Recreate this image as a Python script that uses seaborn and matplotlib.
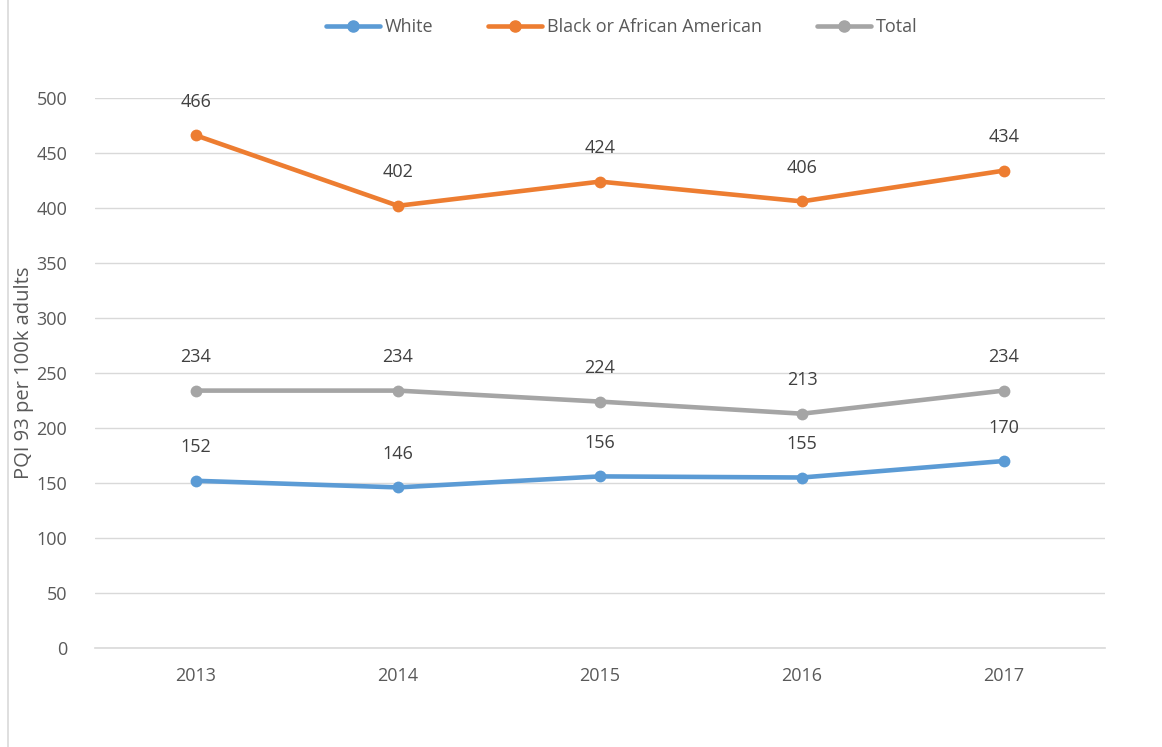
import numpy as np
import pandas as pd
import matplotlib
matplotlib.use('Agg')
import matplotlib.pyplot as plt
import seaborn as sns
from matplotlib.lines import Line2D

years = ['2013', '2014', '2015', '2016', '2017']
white = [152, 146, 156, 155, 170]
black = [466, 402, 424, 406, 434]
total = [234, 234, 224, 213, 234]
groups = ['White', 'Black or African American', 'Total']
colors = ['#5B9BD5', '#ED7D31', '#A5A5A5']

data = pd.DataFrame({
    'Year': years * 3,
    'Value': white + black + total,
    'Group': [groups[0]] * 5 + [groups[1]] * 5 + [groups[2]] * 5,
})

sns.set_style('white')
plt.rcParams['font.family'] = ['Open Sans', 'DejaVu Sans']
txt = '#595959'

fig = plt.figure(figsize=(11.62, 7.47), dpi=100)
ax = fig.add_axes([95 / 1162, 1 - 648 / 747, 1010 / 1162, 550 / 747])

sns.lineplot(data=data, x='Year', y='Value', hue='Group', hue_order=groups,
             palette=colors, marker='o', markersize=8.5, markeredgewidth=0,
             linewidth=3.3, ax=ax, legend=False)

# data labels
for g, vals, c in zip(groups, [white, black, total], colors):
    for i, v in enumerate(vals):
        ax.annotate(str(v), (i, v), xytext=(0, 24), textcoords='offset points',
                    ha='center', va='center', fontsize=13, color='#404040',
                    annotation_clip=False)

ax.set_xlim(-0.5, 4.5)
ax.set_ylim(0, 500)
ax.set_yticks(range(0, 501, 50))
ax.yaxis.grid(True, color='#D9D9D9', linewidth=1)
ax.set_axisbelow(True)
for s in ['top', 'right', 'left']:
    ax.spines[s].set_visible(False)
ax.spines['bottom'].set_color('#D9D9D9')
ax.spines['bottom'].set_linewidth(1.2)
ax.tick_params(axis='both', length=0, labelsize=13, colors=txt)
ax.tick_params(axis='x', pad=14)
ax.tick_params(axis='y', pad=20)
ax.set_xlabel('')
ax.set_ylabel('PQI 93 per 100k adults', fontsize=14.5, color=txt)
ax.yaxis.set_label_coords(-61 / 1010, 0.5)

handles = [Line2D([0], [0], color=c, linewidth=3.3, marker='o', markersize=8) for c in colors]
fig.legend(handles, groups, loc='center', bbox_to_anchor=(0.535, 1 - 27 / 747), ncol=3,
           frameon=False, fontsize=13, handlelength=3.0, handletextpad=0.3,
           columnspacing=3.0, labelcolor=txt)

fig.add_artist(Line2D([8 / 1162, 8 / 1162], [0, 1], color='#D9D9D9', linewidth=1.2))

fig.savefig('out.png', dpi=100)
